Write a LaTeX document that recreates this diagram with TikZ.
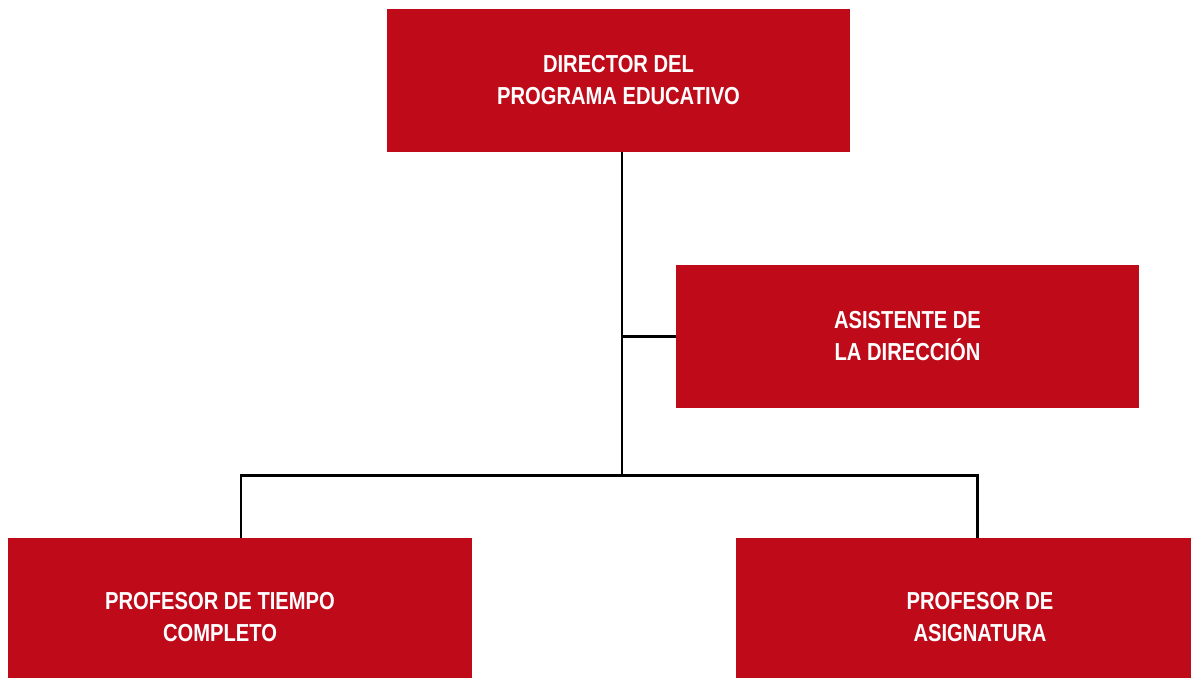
\documentclass[tikz,border=0pt]{standalone}
\usepackage{fontspec}
\setmainfont{Liberation Sans}[FakeStretch=0.82]
\usetikzlibrary{positioning, calc}
\definecolor{boxred}{HTML}{BE0A19}

\begin{document}
\begin{tikzpicture}[x=0.02cm, y=-0.02cm]
  \newcommand\orgboxwidth{9.26cm}
  \newcommand\orgboxheight{2.86cm}
  \newcommand\lowboxheight{3.16cm}

  \tikzset{orgbox/.style={fill=boxred, text=white, font=\bfseries\fontsize{14}{18.2}\selectfont,
    align=center, inner sep=0pt, minimum width=\orgboxwidth, minimum height=\orgboxheight}}
  \tikzset{orgline/.style={line width=1.7pt}}

  \clip (0,0) rectangle (1191,677);

  \node[orgbox] at (618.5, 80.5) (dir) {DIRECTOR DEL\\PROGRAMA EDUCATIVO};
  \node[orgbox] at (907.5, 336.5) (asis) {ASISTENTE DE\\LA DIRECCIÓN};
  \begin{scope}
    \clip (8,0) rectangle (1191,677); % white margin on the left
    \node[orgbox, minimum width=10.08cm, minimum height=\lowboxheight] at (220, 617) (ptc) {PROFESOR DE TIEMPO\\COMPLETO};
  \end{scope}
  \node[orgbox, minimum width=9.76cm, minimum height=\lowboxheight] at (980, 617) (pasig) {PROFESOR DE\\ASIGNATURA};

  \coordinate (split) at (622, 475);
  \coordinate (leftdrop) at (241, 475);
  \coordinate (rightdrop) at (977, 475);

  \draw[orgline] (dir.south -| split) -- (split);
  \draw[orgline] (split |- asis.west) -- (asis.west);
  \draw[orgline] (leftdrop |- ptc.north) -- (leftdrop) -- (rightdrop) -- (rightdrop |- pasig.north);
\end{tikzpicture}
\end{document}
